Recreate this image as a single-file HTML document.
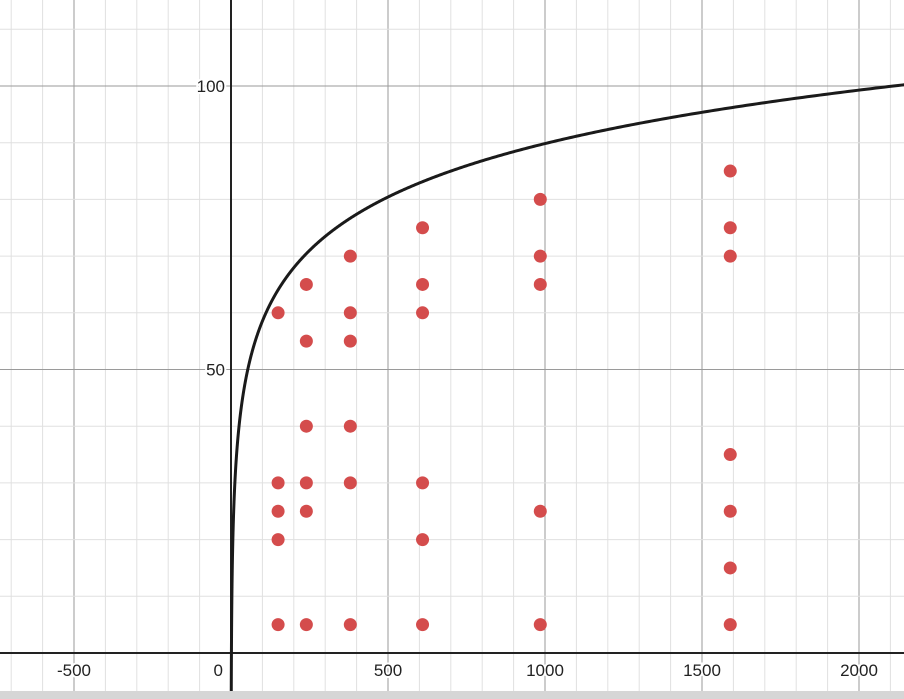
<!DOCTYPE html>
<html><head><meta charset="utf-8"><style>
html,body{margin:0;padding:0;background:#fff;}
svg{display:block;font-family:"Liberation Sans",Arial,sans-serif;}
</style></head><body>
<svg width="904" height="699" viewBox="0 0 904 699">
<g id="grid"></g>
<g id="axes"></g>
<g id="curve"></g>
<g id="pts"></g>
<g id="labels"></g>
<rect x="0" y="691" width="904" height="8" fill="#d6d6d6"/>
</svg>
<script>
const xs = [150,150,150,150,150, 240,240,240,240,240,240, 380,380,380,380,380,380, 610,610,610,610,610,610, 985,985,985,985,985, 1590,1590,1590,1590,1590,1590,1590];
const ys = [60,30,25,20,5, 65,55,40,30,25,5, 70,60,55,40,30,5, 75,65,60,30,20,5, 80,70,65,25,5, 85,75,70,35,25,15,5];
const xTicks = [-500,0,500,1000,1500,2000];
const yTicks = [50,100];
const curveA = 13.6, curveB = -4.1;

const NS='http://www.w3.org/2000/svg';
const X0=231, Y0=653, SX=0.314, SY=5.67;
const px=v=>X0+v*SX, py=v=>Y0-v*SY;
function mk(t,a,p){const e=document.createElementNS(NS,t);for(const k in a)e.setAttribute(k,a[k]);p.appendChild(e);return e;}
const grid=document.getElementById('grid');
for(let v=-800;v<=2300;v+=100){
  const major=v%500===0;
  const l=mk('line',{x1:px(v),x2:px(v),y1:0,y2:699,stroke:major?'#9a9a9a':'#e0e0e0','stroke-width':1},grid);
  
  
}
for(let v=-10;v<=130;v+=10){
  const major=v%50===0;
  const l=mk('line',{x1:0,x2:904,y1:py(v),y2:py(v),stroke:major?'#9a9a9a':'#e0e0e0','stroke-width':1},grid);
  
  
}
const axes=document.getElementById('axes');
let a=mk('line',{x1:0,x2:904,y1:Y0,y2:Y0,stroke:'#222','stroke-width':2},axes);

a=mk('line',{x1:X0,x2:X0,y1:0,y2:699,stroke:'#222','stroke-width':2},axes);


let d='';
for(let i=0;i<=1200;i++){
  const x=0.5*Math.pow(2200/0.5,i/1200);
  const y=curveA*Math.log(x)+curveB;
  const Y=Math.max(py(y),-10);const Yc=Math.min(Y,700);
  d+=(i?'L':'M')+px(x).toFixed(2)+','+Yc.toFixed(2);
}
const c=mk('path',{d:d,fill:'none',stroke:'#1a1a1a','stroke-width':3},document.getElementById('curve'));


const pts=document.getElementById('pts');
for(let i=0;i<xs.length;i++){
  const p=mk('circle',{cx:px(xs[i]),cy:py(ys[i]),r:6.5,fill:'#d44c4c'},pts);
  
  
}
const lab=document.getElementById('labels');
xTicks.forEach(v=>{
  const t=mk('text',{x:v===0?px(v)-8:px(v),y:Y0+23,'font-size':17,'text-anchor':v===0?'end':'middle',fill:'#222',stroke:'#fff','stroke-width':4,'paint-order':'stroke'},lab);
  t.textContent=v===0?'0':(v<0?'-'+(-v):String(v));
  
});
yTicks.forEach(v=>{
  const t=mk('text',{x:X0-6,y:py(v)+6,'font-size':17,'text-anchor':'end',fill:'#222',stroke:'#fff','stroke-width':4,'paint-order':'stroke'},lab);
  t.textContent=String(v);
  
});
</script>
</body></html>
